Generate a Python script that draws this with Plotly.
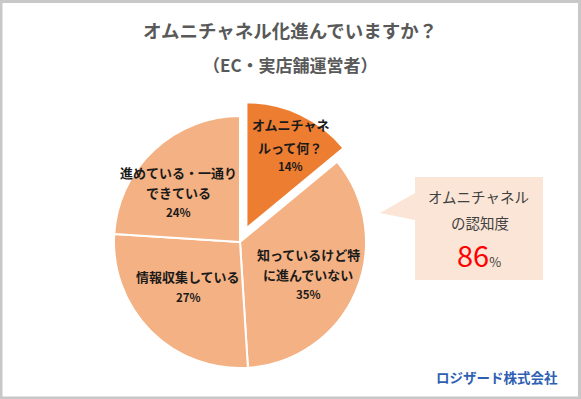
import plotly.graph_objects as go

W, H = 581, 399

# ---- data ----
categories = ["オムニチャネルって何？", "知っているけど特に進んでいない", "情報収集している", "進めている・一通りできている"]
label_lines = [["オムニチャネ", "ルって何？"], ["知っているけど特", "に進んでいない"], ["情報収集している"], ["進めている・一通り", "できている"]]
values = [14, 35, 27, 24]
colors = ["#ED7D31", "#F4B183", "#F4B183", "#F4B183"]
pulls = [0.12, 0, 0, 0]
title_text = "オムニチャネル化進んでいますか？"
subtitle_text = "（EC・実店舗運営者）"
callout_lines = ["オムニチャネル", "の認知度"]
awareness = 86
company = "ロジザード株式会社"

FONT = "Noto Sans CJK JP"

def px(x):
    return x / W

def py(y):
    return 1 - y / H

# pie geometry (pixels)
cx, cy, r = 240, 242, 126
half = r * (1 + max(pulls))

fig = go.Figure(go.Pie(
    labels=categories,
    values=values,
    sort=False,
    direction="clockwise",
    rotation=0,
    pull=pulls,
    marker=dict(colors=colors, line=dict(color="white", width=2)),
    textinfo="none",
    hoverinfo="label+percent",
    showlegend=False,
    domain=dict(x=[px(cx - half), px(cx + half)], y=[py(cy + half), py(cy - half)]),
))

annotations = []

def add_text(x, y, text, size, color="#1a1a1a", bold=False):
    annotations.append(dict(
        x=px(x), y=py(y), xref="paper", yref="paper", showarrow=False,
        text=f"<b>{text}</b>" if bold else text,
        font=dict(family=FONT, size=size, color=color),
        align="center", xanchor="center", yanchor="middle",
    ))

# slice labels: (center x, y of each text line, y of percentage)
label_pos = [(290, [125, 147], 166), (308, [254, 274], 294), (188, [276], 297), (178, [172, 193], 212)]
for lines, v, (lx, lys, pyy) in zip(label_lines, values, label_pos):
    for t, ly in zip(lines, lys):
        add_text(lx, ly, t, 13, bold=True)
    add_text(lx, pyy, f"{v}%", 11.5, bold=True)

# titles
add_text(290, 30, title_text, 18.5, color="#595959", bold=True)
add_text(290, 64, subtitle_text, 17, color="#595959", bold=True)

# callout text
add_text(478, 196, callout_lines[0], 14.5, color="#404040")
add_text(480, 222, callout_lines[1], 14.5, color="#404040")
annotations.append(dict(x=px(479), y=py(254), xref="paper", yref="paper", showarrow=False,
                        text=f"<span style='color:#FF0000;font-size:29px'>{awareness}</span><span style='font-size:13px'>%</span>",
                        font=dict(family=FONT, size=29, color="#404040"),
                        xanchor="center", yanchor="middle"))

# company
add_text(497, 377, company, 13.5, color="#2F5FB3", bold=True)

# callout shape with pointer
bx0, by0, bx1, by1 = 415, 177, 543, 280
pts = [(bx0, by0), (bx1, by0), (bx1, by1), (bx0, by1), (bx0, 220), (380, 213), (bx0, 193)]
path = "M " + " L ".join(f"{px(x):.5f},{py(y):.5f}" for x, y in pts) + " Z"

shapes = [
    dict(type="path", xref="paper", yref="paper", path=path,
         fillcolor="#FBE5D6", line=dict(width=0), layer="below"),
    dict(type="rect", xref="paper", yref="paper", x0=px(1), y0=py(398), x1=px(579.5), y1=py(1.5),
         line=dict(color="#C8C8C8", width=3), fillcolor="rgba(0,0,0,0)"),
]

fig.update_layout(
    width=W, height=H,
    margin=dict(l=0, r=0, t=0, b=0),
    paper_bgcolor="white",
    plot_bgcolor="white",
    annotations=annotations,
    shapes=shapes,
)

fig.write_html(
    "out.html",
    config={"displayModeBar": False},
    post_script="document.body.style.margin='0';document.body.style.overflow='hidden';",
)
